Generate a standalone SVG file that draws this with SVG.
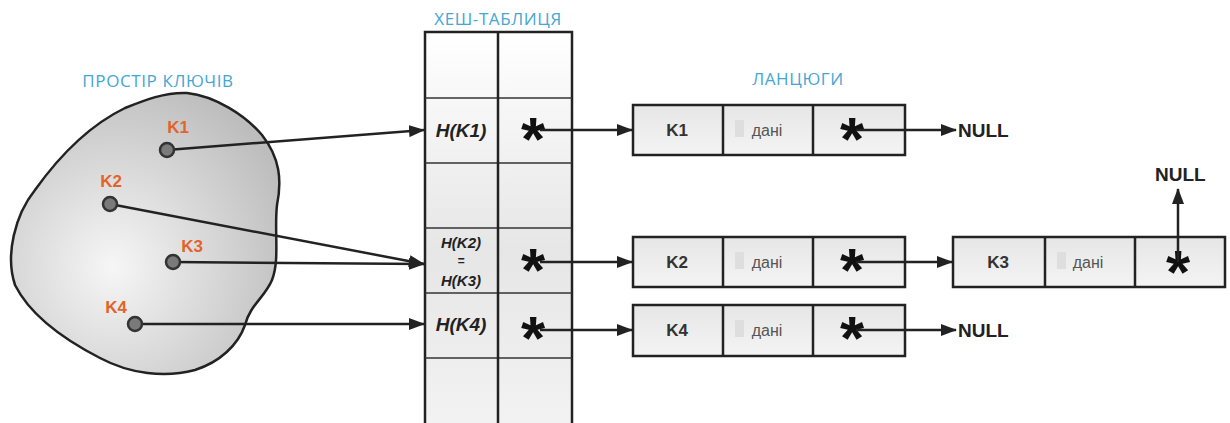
<svg xmlns="http://www.w3.org/2000/svg" width="1230" height="423" viewBox="0 0 1230 423">
  <style>
    .title { font-family: "Open Sans", "Liberation Sans", sans-serif; font-size: 17px; letter-spacing: 0.6px; fill: #45a6d3; text-anchor: middle; }
    .klabel { font-family: "Liberation Sans", Arial, sans-serif; font-size: 17px; font-weight: bold; fill: #e2632c; text-anchor: middle; }
    .hash { font-family: "Liberation Sans", Arial, sans-serif; font-weight: bold; font-style: italic; fill: #222; text-anchor: middle; }
    .star { font-family: "Liberation Sans", Arial, sans-serif; font-size: 62px; font-weight: bold; fill: #111; text-anchor: middle; }
    .key { font-family: "Liberation Sans", Arial, sans-serif; font-size: 17px; font-weight: bold; fill: #333; text-anchor: middle; }
    .data { font-family: "Liberation Sans", Arial, sans-serif; font-size: 16px; fill: #555; text-anchor: middle; }
    .null { font-family: "Liberation Sans", Arial, sans-serif; font-size: 19px; font-weight: bold; fill: #222; }
    .cell { stroke: #222; stroke-width: 2.5; fill: url(#cellFill); }
    .div { stroke: #222; stroke-width: 2.5; }
    .tline { stroke: #333; stroke-width: 1.5; }
    .edge { stroke: #222; stroke-width: 2.5; fill: none; marker-end: url(#arrow); }
    .dot { fill: #7a7a7a; stroke: #333; stroke-width: 2.5; }
    .shade { fill: #dedede; }
  </style>
  <defs>
    <marker id="arrow" markerUnits="userSpaceOnUse" markerWidth="16" markerHeight="12" refX="15" refY="6" orient="auto">
      <path d="M0,0 L16,6 L0,12 Z" fill="#222"/>
    </marker>
    <radialGradient id="blobFill" cx="0.38" cy="0.62" r="0.7">
      <stop offset="0" stop-color="#f6f6f6"/>
      <stop offset="1" stop-color="#bdbdbd"/>
    </radialGradient>
    <linearGradient id="tableFill" x1="0" y1="0" x2="0" y2="1">
      <stop offset="0" stop-color="#ffffff"/>
      <stop offset="0.55" stop-color="#e6e6e6"/>
      <stop offset="1" stop-color="#f3f3f3"/>
    </linearGradient>
    <linearGradient id="cellFill" x1="0" y1="0" x2="0" y2="1">
      <stop offset="0" stop-color="#e6e6e6"/>
      <stop offset="1" stop-color="#f4f4f4"/>
    </linearGradient>
  </defs>

  <rect width="1230" height="423" fill="#ffffff"/>

  <!-- titles -->
  <text class="title" x="158" y="87">ПРОСТІР КЛЮЧІВ</text>
  <text class="title" x="498" y="25">ХЕШ-ТАБЛИЦЯ</text>
  <text class="title" x="798" y="85">ЛАНЦЮГИ</text>

  <!-- key space -->
  <g id="key-space">
    <path d="M187,93 C215,96 245,115 262,135 C280,158 282,180 277,205 C274,230 280,260 272,280 C265,297 250,305 245,325 C238,345 220,362 195,370 C165,378 130,374 100,358 C65,340 30,315 15,285 C5,255 15,215 35,190 C60,155 90,125 125,108 C145,100 165,92 187,93 Z" fill="url(#blobFill)" stroke="#222" stroke-width="2.5"/>
  </g>

  <!-- hash table -->
  <g id="hash-table">
    <rect x="425" y="32" width="147" height="400" fill="url(#tableFill)" stroke="#222" stroke-width="2.5"/>
    <line class="tline" x1="425" y1="98" x2="572" y2="98"/>
    <line class="tline" x1="425" y1="163" x2="572" y2="163"/>
    <line class="tline" x1="425" y1="228" x2="572" y2="228"/>
    <line class="tline" x1="425" y1="293" x2="572" y2="293"/>
    <line class="tline" x1="425" y1="358" x2="572" y2="358"/>
    <line class="div" x1="498" y1="32" x2="498" y2="423"/>
    <text class="hash" x="461" y="137" font-size="19">H(K1)</text>
    <text class="hash" x="461" y="248" font-size="15">H(K2)</text>
    <text class="hash" x="461" y="265" font-size="12">=</text>
    <text class="hash" x="461" y="286" font-size="15">H(K3)</text>
    <text class="hash" x="461" y="331" font-size="19">H(K4)</text>
    <text class="star" x="533" y="160">*</text>
    <text class="star" x="533" y="291">*</text>
    <text class="star" x="533" y="359">*</text>
  </g>

  <!-- chain nodes -->
  <g id="chain-k1">
    <rect class="cell" x="633" y="105" width="272" height="50"/>
    <line class="div" x1="723" y1="105" x2="723" y2="155"/>
    <line class="div" x1="813" y1="105" x2="813" y2="155"/>
    <text class="key" x="677" y="136">K1</text>
    <rect class="shade" x="735" y="120" width="9" height="17"/>
    <text class="data" x="767" y="136">дані</text>
    <text class="star" x="852" y="160">*</text>
  </g>
  <g id="chain-k2">
    <rect class="cell" x="633" y="237" width="272" height="50"/>
    <line class="div" x1="723" y1="237" x2="723" y2="287"/>
    <line class="div" x1="813" y1="237" x2="813" y2="287"/>
    <text class="key" x="677" y="268">K2</text>
    <rect class="shade" x="735" y="252" width="9" height="17"/>
    <text class="data" x="767" y="268">дані</text>
    <text class="star" x="852" y="291">*</text>
  </g>
  <g id="chain-k3">
    <rect class="cell" x="953" y="237" width="272" height="50"/>
    <line class="div" x1="1045" y1="237" x2="1045" y2="287"/>
    <line class="div" x1="1135" y1="237" x2="1135" y2="287"/>
    <text class="key" x="998" y="268">K3</text>
    <rect class="shade" x="1057" y="252" width="9" height="17"/>
    <text class="data" x="1088" y="268">дані</text>
    <text class="star" x="1178" y="293">*</text>
  </g>
  <g id="chain-k4">
    <rect class="cell" x="633" y="305" width="272" height="51"/>
    <line class="div" x1="723" y1="305" x2="723" y2="356"/>
    <line class="div" x1="813" y1="305" x2="813" y2="356"/>
    <text class="key" x="677" y="336">K4</text>
    <rect class="shade" x="735" y="320" width="9" height="17"/>
    <text class="data" x="767" y="336">дані</text>
    <text class="star" x="852" y="359">*</text>
  </g>

  <!-- connectors -->
  <g id="connectors">
    <line class="edge" x1="167" y1="150" x2="424" y2="130"/>
    <line class="edge" x1="110" y1="204" x2="424" y2="264"/>
    <line class="edge" x1="173" y1="262" x2="424" y2="264"/>
    <line class="edge" x1="135" y1="324" x2="424" y2="324"/>
    <line class="edge" x1="540" y1="130" x2="632" y2="130"/>
    <line class="edge" x1="540" y1="262" x2="632" y2="262"/>
    <line class="edge" x1="540" y1="330" x2="632" y2="330"/>
    <line class="edge" x1="856" y1="130" x2="956" y2="130"/>
    <line class="edge" x1="856" y1="262" x2="952" y2="262"/>
    <line class="edge" x1="856" y1="330" x2="956" y2="330"/>
    <line class="edge" x1="1178" y1="262" x2="1178" y2="189"/>
  </g>

  <!-- keys -->
  <g id="key-k1">
    <circle class="dot" cx="167" cy="150" r="7"/>
    <text class="klabel" x="178" y="133">K1</text>
  </g>
  <g id="key-k2">
    <circle class="dot" cx="110" cy="204" r="7"/>
    <text class="klabel" x="111" y="187">K2</text>
  </g>
  <g id="key-k3">
    <circle class="dot" cx="173" cy="262" r="7"/>
    <text class="klabel" x="192" y="252">K3</text>
  </g>
  <g id="key-k4">
    <circle class="dot" cx="135" cy="324" r="7"/>
    <text class="klabel" x="116" y="313">K4</text>
  </g>

  <!-- list terminators -->
  <g id="null-1"><text class="null" x="958" y="137">NULL</text></g>
  <g id="null-2"><text class="null" x="1155" y="181">NULL</text></g>
  <g id="null-3"><text class="null" x="958" y="337">NULL</text></g>
</svg>
